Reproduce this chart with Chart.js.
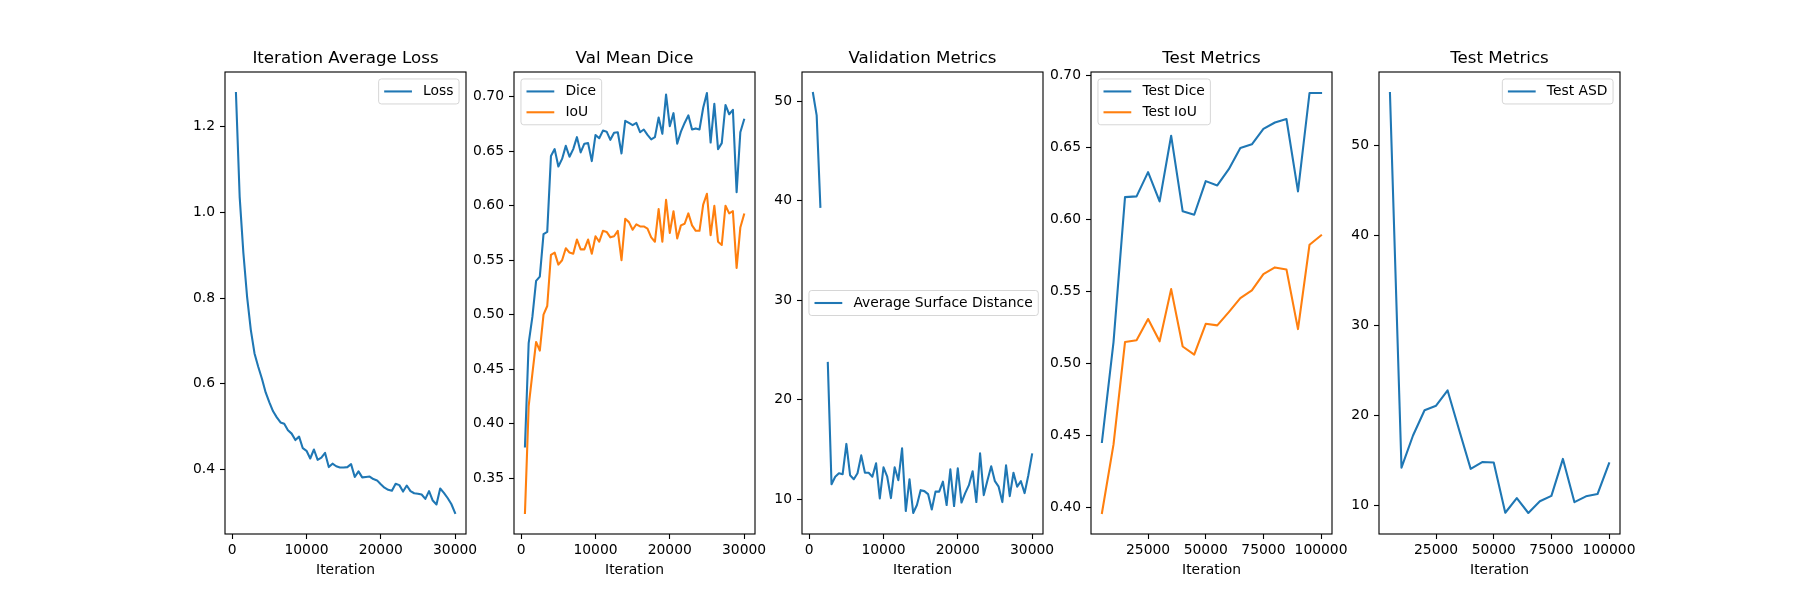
<!DOCTYPE html>
<html lang="en">
<head>
<meta charset="UTF-8" />
<title>Training metrics</title>
<script src="https://cdn.jsdelivr.net/npm/chart.js@4.4.1/dist/chart.umd.min.js"></script>
<style>
  html, body { margin: 0; padding: 0; background: #fff; }
  #fig { position: relative; width: 1800px; height: 600px; overflow: hidden; }
  #fig canvas { position: absolute; top: 0; }
</style>
</head>
<body>
<div id="fig"></div>
<script>
// ---- data ----
const valIters = [500, 1000, 1500, 2000, 2500, 3000, 3500, 4000, 4500, 5000,
  5500, 6000, 6500, 7000, 7500, 8000, 8500, 9000, 9500, 10000,
  10500, 11000, 11500, 12000, 12500, 13000, 13500, 14000, 14500, 15000,
  15500, 16000, 16500, 17000, 17500, 18000, 18500, 19000, 19500, 20000,
  20500, 21000, 21500, 22000, 22500, 23000, 23500, 24000, 24500, 25000,
  25500, 26000, 26500, 27000, 27500, 28000, 28500, 29000, 29500, 30000];

const lossValues = [1.278, 1.036, 0.905, 0.803, 0.726, 0.671, 0.640, 0.612, 0.580, 0.557,
  0.536, 0.522, 0.510, 0.507, 0.492, 0.484, 0.469, 0.477, 0.450, 0.444,
  0.426, 0.447, 0.423, 0.428, 0.439, 0.406, 0.414, 0.408, 0.405, 0.405,
  0.406, 0.413, 0.383, 0.396, 0.382, 0.383, 0.384, 0.378, 0.375, 0.366,
  0.358, 0.353, 0.351, 0.367, 0.364, 0.349, 0.363, 0.350, 0.345, 0.344,
  0.342, 0.332, 0.350, 0.328, 0.319, 0.356, 0.346, 0.334, 0.320, 0.299];

const valDice = [0.379, 0.474, 0.498, 0.531, 0.535, 0.574, 0.576, 0.6456, 0.652, 0.636,
  0.643, 0.655, 0.645, 0.652, 0.663, 0.649, 0.657, 0.6575, 0.641, 0.665,
  0.662, 0.669, 0.668, 0.6605, 0.667, 0.6675, 0.648, 0.678, 0.676, 0.674,
  0.676, 0.6675, 0.670, 0.665, 0.661, 0.663, 0.681, 0.666, 0.702, 0.673,
  0.685, 0.657, 0.668, 0.676, 0.683, 0.670, 0.671, 0.670, 0.690, 0.7035,
  0.658, 0.6935, 0.652, 0.6575, 0.6925, 0.684, 0.688, 0.6125, 0.6675, 0.679];

const valIoU = [0.318, 0.416, 0.446, 0.475, 0.467, 0.500, 0.508, 0.555, 0.557, 0.546,
  0.550, 0.561, 0.557, 0.556, 0.569, 0.560, 0.560, 0.569, 0.556, 0.572,
  0.567, 0.577, 0.576, 0.571, 0.572, 0.577, 0.550, 0.588, 0.585, 0.578,
  0.583, 0.581, 0.581, 0.579, 0.571, 0.567, 0.597, 0.567, 0.6055, 0.575,
  0.595, 0.570, 0.582, 0.5835, 0.593, 0.582, 0.577, 0.577, 0.601, 0.611,
  0.573, 0.600, 0.567, 0.564, 0.600, 0.593, 0.595, 0.543, 0.580, 0.592];

// null = no value logged at that iteration (gap in the line)
const valASD = [50.85, 48.6, 39.4, null, 23.7, 11.5, 12.25, 12.6, 12.5, 15.55,
  12.4, 12.0, 12.6, 14.4, 12.65, 12.65, 12.25, 13.6, 10.07, 13.2,
  12.25, 10.1, 13.2, 11.9, 15.1, 8.8, 12.0, 8.6, 9.4, 10.9,
  10.8, 10.5, 8.95, 10.75, 10.75, 11.75, 9.4, 13.0, 9.3, 13.1,
  9.65, 10.6, 11.4, 12.8, 9.7, 14.6, 10.4, 11.9, 13.3, 11.8,
  11.25, 9.7, 13.4, 10.3, 12.65, 11.25, 11.8, 10.6, 12.4, 14.5];

const testIters = [5000, 10000, 15000, 20000, 25000, 30000, 35000, 40000, 45000, 50000,
  55000, 60000, 65000, 70000, 75000, 80000, 85000, 90000, 95000, 100000];

const testDice = [0.4453, 0.5146, 0.6156, 0.6161, 0.633, 0.6126, 0.6583, 0.6057, 0.6033, 0.6267,
  0.6237, 0.635, 0.6497, 0.6523, 0.663, 0.6675, 0.6699, 0.6196, 0.688, 0.688];

const testIoU = [0.3959, 0.4434, 0.5148, 0.516, 0.5308, 0.5153, 0.5516, 0.5117, 0.506, 0.5275,
  0.5264, 0.5356, 0.5454, 0.5507, 0.562, 0.5667, 0.5653, 0.5238, 0.5825, 0.589];

const testASD = [55.8, 14.23, 17.8, 20.6, 21.1, 22.8, 18.4, 14.1, 14.85, 14.8,
  9.23, 10.85, 9.2, 10.5, 11.1, 15.2, 10.4, 11.05, 11.3, 14.7];

const valXTicks = [0, 10000, 20000, 30000];
const testXTicks = [25000, 50000, 75000, 100000];
const lossYTicks = [0.4, 0.6, 0.8, 1.0, 1.2];
const valDiceYTicks = [0.35, 0.40, 0.45, 0.50, 0.55, 0.60, 0.65, 0.70];
const valASDYTicks = [10, 20, 30, 40, 50];
const testDiceYTicks = [0.40, 0.45, 0.50, 0.55, 0.60, 0.65, 0.70];
const testASDYTicks = [10, 20, 30, 40, 50];

// ---- style ----
const BLUE = '#1f77b4', ORANGE = '#ff7f0e';
const FONT = '"DejaVu Sans", sans-serif';
const PX = 100 / 72;          // pt -> px at 100 dpi
const AX_W = 241, SIDE = 70;  // axes width, room either side of it
const panelLefts = [225, 514, 802, 1091, 1379];

// matplotlib-like autoscale: data range plus 5% each side
function limits(arrays) {
  const v = arrays.flat().filter(x => x !== null);
  const lo = Math.min(...v), hi = Math.max(...v);
  const m = (hi - lo) * 0.05;
  return [lo - m, hi + m];
}

function pts(xs, ys) {
  return xs.map((x, i) => ({ x: x, y: ys[i] }));
}

// box round the axes, drawn above the lines like matplotlib spines
const frame = {
  id: 'frame',
  afterDatasetsDraw(chart) {
    const { ctx, chartArea: a } = chart;
    ctx.save();
    ctx.strokeStyle = '#000';
    ctx.lineWidth = 0.8 * PX;
    ctx.strokeRect(a.left, a.top, a.right - a.left, a.bottom - a.top);
    ctx.restore();
  }
};

// legend inside the axes, matplotlib layout
const mplLegend = {
  id: 'mplLegend',
  afterDraw(chart, args, opts) {
    const { ctx, chartArea: a } = chart;
    const ds = chart.data.datasets;
    const fs = 10 * PX;
    const pad = 0.4 * fs, hl = 2 * fs, htp = 0.8 * fs, gap = 0.5 * fs, edge = 0.5 * fs, rowH = fs;
    ctx.save();
    ctx.font = fs + 'px ' + FONT;
    const tw = Math.max(...ds.map(d => ctx.measureText(d.label).width));
    const w = pad + hl + htp + tw + pad;
    const h = 2 * pad + ds.length * rowH + (ds.length - 1) * gap;
    const x = opts.loc.includes('left') ? a.left + edge : a.right - edge - w;
    const y = opts.loc.startsWith('upper') ? a.top + edge : (a.top + a.bottom - h) / 2;
    ctx.beginPath();
    ctx.roundRect(x, y, w, h, 0.2 * fs);
    ctx.fillStyle = 'rgba(255,255,255,0.8)';
    ctx.fill();
    ctx.strokeStyle = 'rgba(204,204,204,0.8)';
    ctx.lineWidth = 1;
    ctx.stroke();
    ds.forEach((d, i) => {
      const cy = y + pad + rowH / 2 + i * (rowH + gap);
      ctx.beginPath();
      ctx.moveTo(x + pad, cy);
      ctx.lineTo(x + pad + hl, cy);
      ctx.strokeStyle = d.borderColor;
      ctx.lineWidth = 1.5 * PX;
      ctx.stroke();
      ctx.fillStyle = '#000';
      ctx.textBaseline = 'middle';
      ctx.textAlign = 'left';
      ctx.fillText(d.label, x + pad + hl + htp, cy);
    });
    ctx.restore();
  }
};

function line(label, color, data) {
  return {
    label: label, data: data, borderColor: color, backgroundColor: color,
    borderWidth: 1.5 * PX, pointRadius: 0, tension: 0, fill: false,
    spanGaps: false, borderJoinStyle: 'round', borderCapStyle: 'square'
  };
}

function makePanel(i, title, datasets, xLim, xTicks, yLim, yTicks, yFmt, loc) {
  const canvas = document.createElement('canvas');
  canvas.width = SIDE + AX_W + SIDE;
  canvas.height = 600;
  canvas.style.left = (panelLefts[i] - SIDE) + 'px';
  document.getElementById('fig').appendChild(canvas);

  const tickFont = { family: FONT, size: 10 * PX };
  const gridOpts = {
    display: true, drawOnChartArea: false, drawTicks: true, tickLength: 5,
    tickColor: '#000', tickWidth: 0.8 * PX
  };

  new Chart(canvas.getContext('2d'), {
    type: 'line',
    data: { datasets: datasets },
    options: {
      responsive: false,
      animation: false,
      devicePixelRatio: 1,
      events: [],
      layout: { padding: { left: 0, right: SIDE, top: 0, bottom: 0 } },
      scales: {
        x: {
          type: 'linear', bounds: 'data', min: xLim[0], max: xLim[1],
          afterBuildTicks: s => { s.ticks = xTicks.map(v => ({ value: v })); },
          afterFit: s => { s.height = 66; },
          grid: gridOpts,
          border: { display: false },
          ticks: { color: '#000', font: tickFont, padding: 3, maxRotation: 0, autoSkip: false,
                   callback: v => String(v) },
          title: { display: true, text: 'Iteration', color: '#000', font: tickFont,
                   padding: { top: 0, bottom: 21 } }
        },
        y: {
          type: 'linear', bounds: 'data', min: yLim[0], max: yLim[1],
          afterBuildTicks: s => { s.ticks = yTicks.map(v => ({ value: v })); },
          afterFit: s => { s.width = SIDE; },
          grid: gridOpts,
          border: { display: false },
          ticks: { color: '#000', font: tickFont, padding: 5, autoSkip: false,
                   callback: v => yFmt(v) }
        }
      },
      plugins: {
        legend: { display: false },
        tooltip: { enabled: false },
        title: {
          display: true, fullSize: false, text: title, color: '#000',
          font: { family: FONT, size: 12 * PX, weight: 'normal', lineHeight: 1.2 },
          padding: { top: 49, bottom: 3 }
        },
        mplLegend: { loc: loc }
      }
    },
    plugins: [frame, mplLegend]
  });
}

const valXLim = limits([valIters]);
const testXLim = limits([testIters]);

makePanel(0, 'Iteration Average Loss',
  [line('Loss', BLUE, pts(valIters, lossValues))],
  valXLim, valXTicks, limits([lossValues]), lossYTicks, v => v.toFixed(1), 'upper right');

makePanel(1, 'Val Mean Dice',
  [line('Dice', BLUE, pts(valIters, valDice)), line('IoU', ORANGE, pts(valIters, valIoU))],
  valXLim, valXTicks, limits([valDice, valIoU]), valDiceYTicks, v => v.toFixed(2), 'upper left');

makePanel(2, 'Validation Metrics',
  [line('Average Surface Distance', BLUE, pts(valIters, valASD))],
  valXLim, valXTicks, limits([valASD]), valASDYTicks, v => String(v), 'center left');

makePanel(3, 'Test Metrics',
  [line('Test Dice', BLUE, pts(testIters, testDice)), line('Test IoU', ORANGE, pts(testIters, testIoU))],
  testXLim, testXTicks, limits([testDice, testIoU]), testDiceYTicks, v => v.toFixed(2), 'upper left');

makePanel(4, 'Test Metrics',
  [line('Test ASD', BLUE, pts(testIters, testASD))],
  testXLim, testXTicks, limits([testASD]), testASDYTicks, v => String(v), 'upper right');
</script>
</body>
</html>
